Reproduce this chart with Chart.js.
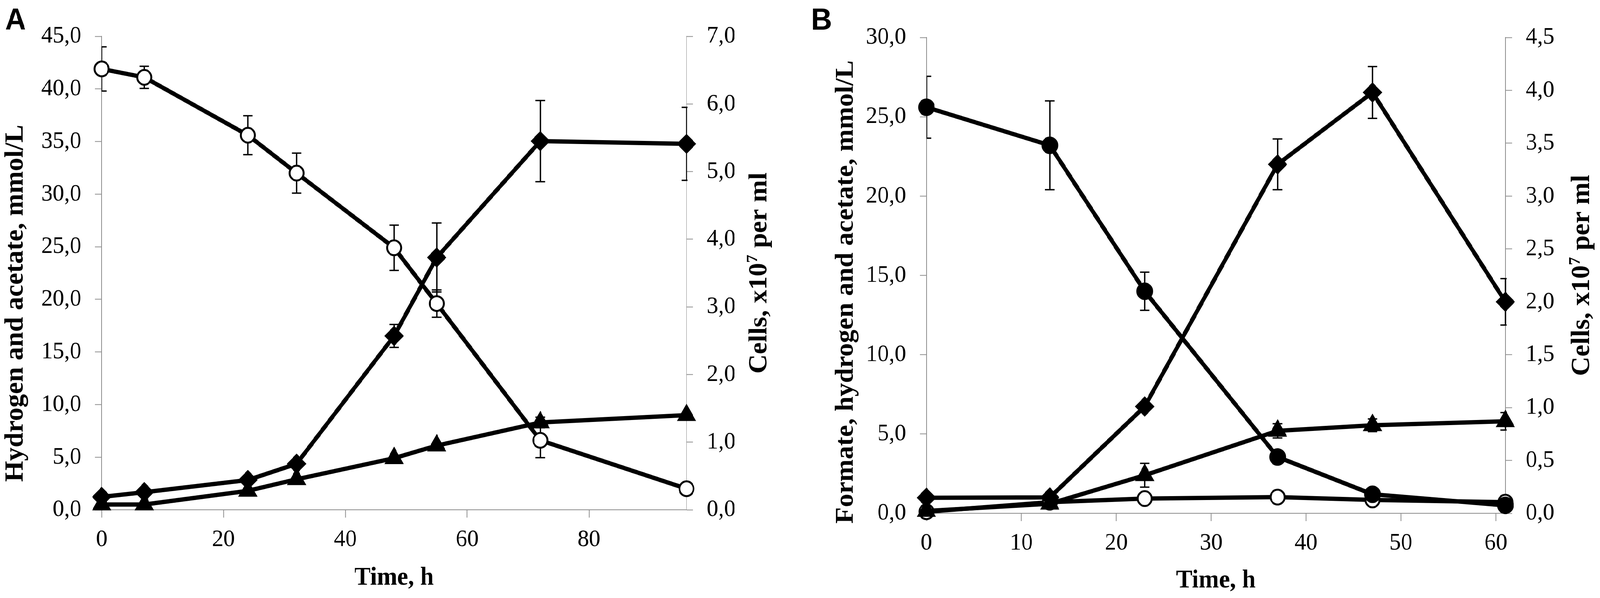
<!DOCTYPE html>
<html>
<head>
<meta charset="utf-8">
<script src="https://cdn.jsdelivr.net/npm/chart.js@4.4.1/dist/chart.umd.min.js"></script>
<style>
html,body{margin:0;padding:0;background:#fff;overflow:hidden}
#wrap{position:absolute;left:0;top:0;width:4328px;height:1532px;transform-origin:0 0;background:#fff}
canvas{position:absolute;top:0}
#cA{left:0}
#cB{left:2164px}
</style>
</head>
<body>
<div id="wrap">
<canvas id="cA" width="2164" height="1532"></canvas>
<canvas id="cB" width="2164" height="1532"></canvas>
</div>
<script>
// ---------- Panel A data ----------
const timeA = [0, 7, 24, 32, 48, 55, 72, 96];
const hydrogenA = [41.9, 41.1, 35.6, 32.0, 24.9, 19.6, 6.6, 2.0];        // open circles, left axis
const hydrogenErrA = [2.1, 1.05, 1.85, 1.9, 2.15, 1.3, 1.65, 0];
const acetateA = [0.5, 0.5, 1.8, 2.9, 4.9, 6.1, 8.3, 9.0];               // triangles, left axis
const acetateErrA = [0, 0, 0, 0, 0, 0, 0.5, 0];
const cellsA = [0.19, 0.26, 0.44, 0.68, 2.57, 3.73, 5.45, 5.41];          // diamonds, right axis
const cellsErrA = [0, 0, 0, 0, 0.17, 0.51, 0.6, 0.54];
const xTicksA = [0, 20, 40, 60, 80];

// ---------- Panel B data ----------
const timeB = [0, 13, 23, 37, 47, 61];
const formateB = [25.6, 23.2, 14.0, 3.55, 1.2, 0.5];                      // filled circles, left axis
const formateErrB = [1.95, 2.8, 1.2, 0.3, 0, 0];
const hydrogenB = [0.1, 0.7, 0.93, 1.02, 0.84, 0.7];                      // open circles, left axis
const acetateB = [0.15, 0.6, 2.4, 5.2, 5.55, 5.8];                        // triangles, left axis
const acetateErrB = [0, 0, 0.75, 0.45, 0.4, 0.55];
const cellsB = [0.147, 0.15, 1.01, 3.30, 3.98, 2.0];                      // diamonds, right axis
const cellsErrB = [0, 0, 0, 0.24, 0.245, 0.22];
const xTicksB = [0, 10, 20, 30, 40, 50, 60];

// ---------- Text ----------
const xTitle = 'Time, h';
const leftTitleA = 'Hydrogen and acetate, mmol/L';
const leftTitleB = 'Formate, hydrogen and acetate, mmol/L';
const rightTitleParts = ['Cells, x10', '7', ' per ml'];

// fit the 4328-wide design into the actual viewport width
const fitScale = Math.min(1, window.innerWidth / 4328);
document.getElementById('wrap').style.transform = 'scaleX(' + fitScale + ')';

const GRAY = '#8c8c8c';
const SERIF = '"Liberation Serif", "Times New Roman", serif';
const fmt1 = v => v.toFixed(1).replace('.', ',');
const pts = (xs, ys) => xs.map((x, i) => ({x: x, y: ys[i]}));

const decor = {
  id: 'decor',
  beforeDatasetsDraw(chart) {
    const ctx = chart.ctx, a = chart.chartArea;
    ctx.save();
    ctx.beginPath();
    ctx.rect(a.left, 0, a.right - a.left + 3, chart.height);
    ctx.clip();
    ctx.strokeStyle = '#000';
    ctx.lineWidth = 3.5;
    chart.data.datasets.forEach(ds => {
      if (!ds.errorBars) return;
      const xs = chart.scales.x, ys = chart.scales[ds.yAxisID];
      ds.data.forEach((p, i) => {
        const e = ds.errorBars[i];
        if (!e) return;
        const x = xs.getPixelForValue(p.x);
        const yt = ys.getPixelForValue(p.y + e), yb = ys.getPixelForValue(p.y - e);
        ctx.beginPath();
        ctx.moveTo(x, yt); ctx.lineTo(x, yb);
        ctx.moveTo(x - 13, yt); ctx.lineTo(x + 13, yt);
        ctx.moveTo(x - 13, yb); ctx.lineTo(x + 13, yb);
        ctx.stroke();
      });
    });
    ctx.restore();
  },
  afterDraw(chart, args, o) {
    const ctx = chart.ctx;
    const a = chart.chartArea;
    ctx.save();
    ctx.fillStyle = '#000';
    ctx.textBaseline = 'alphabetic';
    // panel letter
    ctx.font = 'bold 78px "Liberation Sans", Arial, sans-serif';
    ctx.textAlign = 'left';
    ctx.fillText(o.letter, o.letterX, 76);
    // x axis title
    ctx.font = 'bold 66px ' + SERIF;
    ctx.textAlign = 'center';
    ctx.fillText(xTitle, (a.left + a.right) / 2, o.xTitleY);
    // left axis title
    ctx.font = 'bold 69px ' + SERIF;
    ctx.save();
    ctx.translate(o.leftX, o.leftY);
    ctx.rotate(-Math.PI / 2);
    ctx.textAlign = 'center';
    ctx.fillText(o.leftText, 0, 0);
    ctx.restore();
    // right axis title with superscript
    ctx.save();
    ctx.translate(o.rightX, (a.top + a.bottom) / 2);
    ctx.rotate(-Math.PI / 2);
    ctx.textAlign = 'left';
    const mainFont = 'bold 69px ' + SERIF, supFont = 'bold 42px ' + SERIF;
    ctx.font = mainFont;
    const w1 = ctx.measureText(rightTitleParts[0]).width;
    const w3 = ctx.measureText(rightTitleParts[2]).width;
    ctx.font = supFont;
    const w2 = ctx.measureText(rightTitleParts[1]).width;
    const s = -(w1 + w2 + w3) / 2;
    ctx.font = mainFont; ctx.fillText(rightTitleParts[0], s, 0);
    ctx.font = supFont; ctx.fillText(rightTitleParts[1], s + w1, -25);
    ctx.font = mainFont; ctx.fillText(rightTitleParts[2], s + w1 + w2, 0);
    ctx.restore();
    ctx.restore();
  }
};

function lineDs(data, yAxisID, style, errs) {
  const base = {
    data: data, yAxisID: yAxisID, errorBars: errs || null,
    borderColor: '#000', borderWidth: 11, borderJoinStyle: 'round', borderCapStyle: 'round',
    tension: 0, fill: false, clip: false,
    pointBorderColor: '#000', pointHoverRadius: 0
  };
  if (style === 'open') Object.assign(base, {pointStyle: 'circle', pointRadius: 19, pointBorderWidth: 5, pointBackgroundColor: '#fff'});
  if (style === 'dot') Object.assign(base, {pointStyle: 'circle', pointRadius: 21, pointBorderWidth: 3, pointBackgroundColor: '#000'});
  if (style === 'diamond') Object.assign(base, {pointStyle: 'rectRot', pointRadius: 24, pointBorderWidth: 3, pointBackgroundColor: '#000'});
  if (style === 'triangle') Object.assign(base, {pointStyle: 'triangle', pointRadius: 27, pointBorderWidth: 3, pointBackgroundColor: '#000'});
  return base;
}

function yAxis(pos, max, step, width) {
  return {
    type: 'linear', position: pos, min: 0, max: max,
    afterFit: s => { s.width = width; },
    ticks: {stepSize: step, callback: fmt1, color: '#000', padding: 37,
            font: {family: SERIF, size: 62}},
    grid: {drawOnChartArea: false, drawTicks: true, tickLength: 18, tickColor: GRAY, tickWidth: 2, color: GRAY},
    border: {display: true, color: GRAY, width: 2}
  };
}

function xAxis(max, step, height) {
  return {
    type: 'linear', position: 'bottom', min: 0, max: max,
    afterFit: s => { s.height = height; },
    ticks: {stepSize: step, includeBounds: false, autoSkip: false, maxRotation: 0,
            callback: v => String(v), color: '#000', padding: 20,
            font: {family: SERIF, size: 62}},
    grid: {drawOnChartArea: false, drawTicks: true, tickLength: 20, tickColor: GRAY, tickWidth: 2, color: GRAY},
    border: {display: true, color: GRAY, width: 2}
  };
}

function makeChart(id, datasets, scales, padTop, decorOpts) {
  return new Chart(document.getElementById(id), {
    type: 'line',
    data: {datasets: datasets},
    options: {
      responsive: false, animation: false, devicePixelRatio: 1,
      layout: {padding: {top: padTop, left: 0, right: 0, bottom: 0}},
      plugins: {legend: {display: false}, tooltip: {enabled: false}, decor: decorOpts},
      events: [],
      scales: scales
    },
    plugins: [decor]
  });
}

makeChart('cA', [
  lineDs(pts(timeA, hydrogenA), 'y', 'open', hydrogenErrA),
  lineDs(pts(timeA, cellsA), 'y1', 'diamond', cellsErrA),
  lineDs(pts(timeA, acetateA), 'y', 'triangle', acetateErrA)
], {
  x: xAxis(timeA[timeA.length - 1], xTicksA[1] - xTicksA[0], 226),
  y: yAxis('left', 45, 5, 275),
  y1: yAxis('right', 7, 1, 2164 - 1857)
}, 93, {letter: 'A', letterX: 14, xTitleY: 1498, leftX: 61, leftY: 777, leftText: leftTitleA, rightX: 2073});

makeChart('cB', [
  lineDs(pts(timeB, formateB), 'y', 'dot', formateErrB),
  lineDs(pts(timeB, cellsB), 'y1', 'diamond', cellsErrB),
  lineDs(pts(timeB, acetateB), 'y', 'triangle', acetateErrB),
  lineDs(pts(timeB, hydrogenB), 'y', 'open', null)
], {
  x: xAxis(timeB[timeB.length - 1], xTicksB[1] - xTicksB[0], 217),
  y: yAxis('left', 30, 5, 342),
  y1: yAxis('right', 4.5, 0.5, 2164 - 1908)
}, 96, {letter: 'B', letterX: 30, xTitleY: 1505, leftX: 2307 - 2164, leftY: 748, leftText: leftTitleB, rightX: 4298 - 2164});
</script>
</body>
</html>
